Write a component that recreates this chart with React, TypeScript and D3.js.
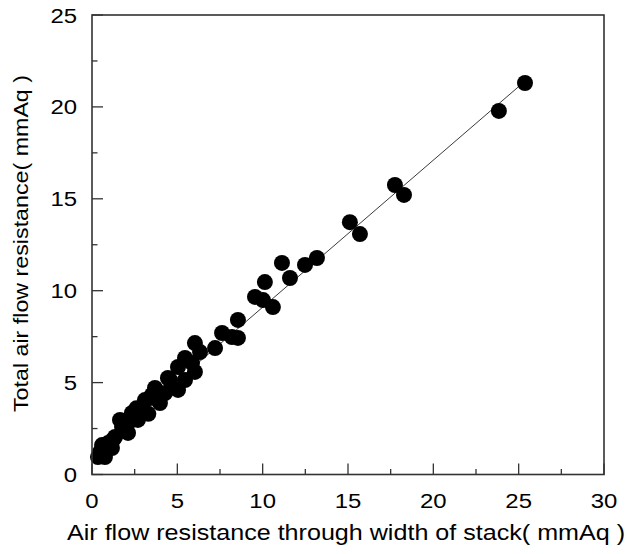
import React from "react";
import * as d3 from "d3";

const xValues = [
  25.37, 23.84, 17.75, 18.28, 15.11, 15.7, 13.18, 12.48, 11.13, 11.6, 10.13, 9.55, 10.02, 10.6,
  8.55, 7.62, 8.2, 8.55, 7.21, 6.03, 5.04, 5.45, 5.86, 6.03, 4.57, 5.04, 3.69, 3.4, 3.98, 3.51,
  2.34, 2.11, 2.69, 1.76, 2.11, 1.35, 0.94, 1.17, 0.47, 0.35, 0.76, 1.23,
  2.93, 3.1, 4.28, 4.45, 5.45, 6.33, 1.64, 0.59, 2.6, 3.3,
];
const yValues = [
  21.3, 19.78, 15.75, 15.21, 13.73, 13.08, 11.78, 11.4, 11.51, 10.69, 10.47, 9.66, 9.49, 9.11,
  8.41, 7.7, 7.48, 7.43, 6.88, 7.15, 5.85, 6.34, 6.07, 5.58, 5.14, 4.6, 4.71, 4.16, 3.89, 4.33,
  3.35, 2.8, 2.97, 2.58, 2.26, 2.04, 1.71, 1.44, 1.22, 0.95, 0.95, 1.88,
  3.51, 4.05, 4.43, 5.25, 5.14, 6.66, 2.97, 1.6, 3.6, 3.3,
];
const fitLineX = [0.35, 25.37];
const fitLineY = [1.38, 21.4];

const xMajorTicks = [0, 5, 10, 15, 20, 25, 30];
const yMajorTicks = [0, 5, 10, 15, 20, 25];
const xMinorTicks = [2.5, 7.5, 12.5, 17.5, 22.5, 27.5];
const yMinorTicks = [2.5, 7.5, 12.5, 17.5, 22.5];

const xTitle = "Air flow resistance through width of stack( mmAq )";
const yTitle = "Total air flow resistance( mmAq )";

const W = 627;
const H = 554;
const FONT = "'Liberation Sans', Arial, sans-serif";

export default function App() {
  const x = d3.scaleLinear().domain([0, 30]).range([92, 604]);
  const y = d3.scaleLinear().domain([0, 25]).range([474.5, 15]);
  const points = xValues.map((v, i) => ({ x: v, y: yValues[i] }));
  const line = d3
    .line<number>()
    .x((d) => x(d))
    .y((_, i) => y(fitLineY[i]));

  const stretch = 1.14;
  return (
    <svg
      width={W}
      height={H}
      style={{ position: "absolute", left: 0, top: 0, display: "block", background: "#fff" }}
      fontFamily={FONT}
    >
      <rect x={0} y={0} width={W} height={H} fill="#fff" />
      <path d={line(fitLineX) || ""} stroke="#3a3a3a" strokeWidth={1} fill="none" />
      {points.map((p, i) => (
        <circle key={i} cx={x(p.x)} cy={y(p.y)} r={8} fill="#000" />
      ))}
      {/* frame */}
      <rect
        x={x(0)}
        y={y(25)}
        width={x(30) - x(0)}
        height={y(0) - y(25)}
        fill="none"
        stroke="#333"
        strokeWidth={1.6}
      />
      {xMajorTicks.map((t) => (
        <line key={"xM" + t} x1={x(t)} x2={x(t)} y1={y(0)} y2={y(0) - 11} stroke="#333" strokeWidth={1.3} />
      ))}
      {xMinorTicks.map((t) => (
        <line key={"xm" + t} x1={x(t)} x2={x(t)} y1={y(0)} y2={y(0) - 5.5} stroke="#333" strokeWidth={1.3} />
      ))}
      {yMajorTicks.map((t) => (
        <line key={"yM" + t} x1={x(0)} x2={x(0) + 11} y1={y(t)} y2={y(t)} stroke="#333" strokeWidth={1.3} />
      ))}
      {yMinorTicks.map((t) => (
        <line key={"ym" + t} x1={x(0)} x2={x(0) + 5.5} y1={y(t)} y2={y(t)} stroke="#333" strokeWidth={1.3} />
      ))}
      {xMajorTicks.map((t) => (
        <g key={"xl" + t} transform={`translate(${x(t)},${508}) scale(${stretch},1)`}>
          <text textAnchor="middle" fontSize={21} fill="#000">
            {t}
          </text>
        </g>
      ))}
      {yMajorTicks.map((t) => (
        <g key={"yl" + t} transform={`translate(${77},${y(t) + 7.5}) scale(${stretch},1)`}>
          <text textAnchor="end" fontSize={21} fill="#000">
            {t}
          </text>
        </g>
      ))}
      <text
        x={346}
        y={540}
        textAnchor="middle"
        fontSize={21.5}
        fill="#000"
        textLength={558}
        lengthAdjust="spacingAndGlyphs"
      >
        {xTitle}
      </text>
      <g transform={`translate(28,243.5) rotate(-90)`}>
        <text
          x={0}
          y={0}
          textAnchor="middle"
          fontSize={21}
          fill="#000"
          textLength={337}
          lengthAdjust="spacingAndGlyphs"
        >
          {yTitle}
        </text>
      </g>
    </svg>
  );
}
